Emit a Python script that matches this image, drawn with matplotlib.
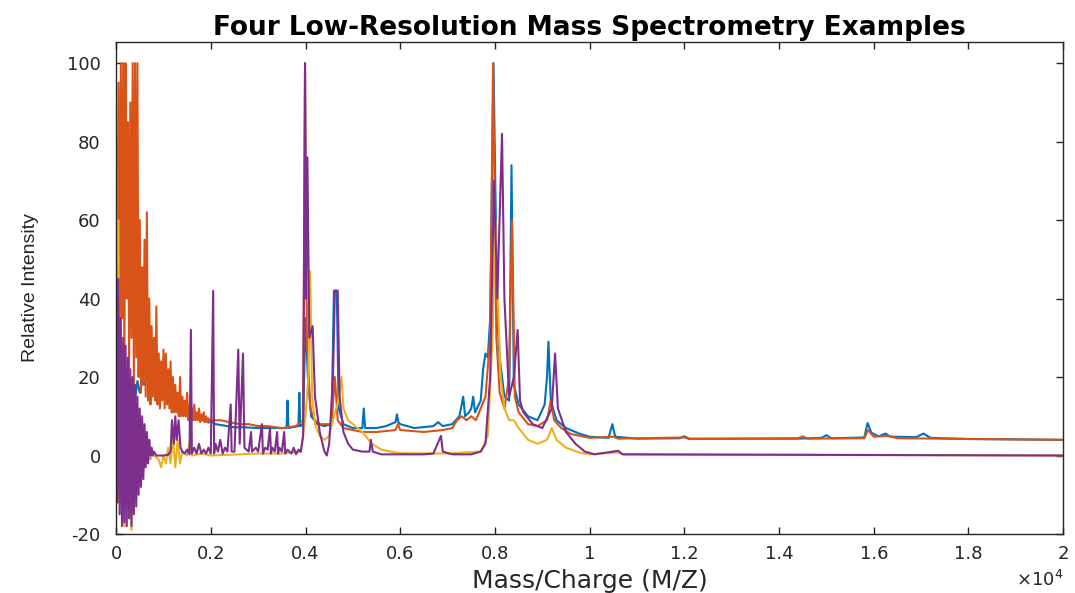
import numpy as np
import matplotlib
matplotlib.use('Agg')
import matplotlib.pyplot as plt

plt.rcParams['axes.unicode_minus'] = False

# spectra, m/z in Da, relative intensity in %
blue_mz = [0, 50, 100, 150, 200, 250, 300, 350, 400, 450, 500, 550, 600, 650, 700, 750, 800, 850, 900, 950,
           1000, 1050, 1100, 1150, 1200, 1250, 1300, 1350, 1400, 1450, 1500, 1550, 1600, 1650, 1700, 1750,
           1800, 1850, 1900, 1950, 2000, 2100, 2300, 2500, 2700, 3000, 3300, 3600, 3620, 3640, 3850, 3870,
           3890, 3950, 4000, 4050, 4120, 4250, 4400, 4550, 4600, 4660, 4700, 4800, 5000, 5200, 5230, 5260,
           5500, 5700, 5900, 5930, 5960, 6000, 6300, 6700, 6800, 6900, 7100, 7250, 7330, 7370, 7450, 7500,
           7540, 7580, 7700, 7750, 7800, 7850, 7900, 7970, 8050, 8100, 8200, 8300, 8350, 8400, 8500, 8700,
           8900, 9050, 9100, 9130, 9180, 9300, 9500, 9800, 10000, 10400, 10480, 10540, 11000, 11900, 12000,
           12100, 14400, 14900, 15000, 15100, 15800, 15870, 15950, 16100, 16250, 16350, 16900, 17050, 17200,
           18000, 20000]
blue_int = [5, 20, 8, 25, 10, 18, 12, 20, 14, 19, 16, 19, 18, 20.5, 21, 19, 20, 17.5, 18.5, 16.5,
            17, 15.5, 16, 14.5, 15, 13.5, 14, 12.5, 13, 11.5, 12, 10.5, 11, 10, 10.3, 9.3,
            9.8, 8.8, 9.2, 8.4, 8.7, 8, 7.6, 7.2, 7.2, 7, 7, 7, 14, 7, 7.5, 16,
            7.5, 8, 35, 20, 10, 8, 7.5, 8, 42, 42, 12, 8, 7, 7, 12, 7,
            7, 7.5, 8.5, 10.5, 8.5, 8, 7, 7.5, 8.5, 7.5, 8, 10, 15, 10, 11, 12,
            15, 11, 14, 22, 26, 25, 35, 100, 35, 25, 15, 14, 74, 18, 13, 10,
            9, 13, 20, 29, 14, 9, 7, 5.5, 4.8, 4.5, 8, 4.8, 4.3, 4.4, 4.9,
            4.3, 4.3, 4.5, 5.2, 4.4, 4.6, 8.3, 5.8, 4.9, 5.6, 4.8, 4.7, 5.6, 4.5,
            4.2, 4.0]

orange_mz = [0, 25, 50, 75, 100, 125, 150, 175, 200, 225, 250, 275, 300, 325, 350, 375, 400, 425, 450, 475,
             500, 525, 550, 575, 600, 625, 650, 675, 700, 725, 750, 775, 800, 825, 850, 875, 900, 925, 950, 975,
             1000, 1025, 1050, 1075, 1100, 1125, 1150, 1175, 1200, 1225, 1250, 1275, 1300, 1325, 1350, 1375,
             1400, 1425, 1450, 1475, 1500, 1525, 1550, 1575, 1600, 1625, 1650, 1675, 1700, 1725, 1750, 1775,
             1800, 1825, 1850, 1875, 1900, 1925, 1950, 1975, 2000, 2200, 2400, 2600, 2800, 3000, 3200, 3500,
             3800, 3950, 3990, 4030, 4100, 4200, 4300, 4400, 4550, 4620, 4680, 4800, 5000, 5200, 5500, 5900,
             5950, 6000, 6500, 6900, 7100, 7200, 7300, 7400, 7500, 7600, 7700, 7800, 7900, 7960, 8030, 8100,
             8200, 8300, 8360, 8420, 8500, 8700, 8900, 9100, 9180, 9250, 9400, 9600, 9800, 10000, 10500,
             10600, 12000, 12100, 14400, 14500, 14600, 15800, 15880, 16000, 16300, 16500, 20000]
orange_int = [80, 30, 95, 25, 100, 35, 100, 20, 100, 40, 85, 22, 90, 30, 100, 18, 100, 25, 100, 20,
              60, 16, 48, 18, 55, 15, 62, 14, 40, 13, 33, 15, 30, 14, 38, 13, 26, 12, 24, 14,
              27, 12, 26, 13, 22, 12, 24, 11, 20, 11, 18, 11, 16, 10, 20, 10,
              15, 10, 14, 10, 16, 9, 13, 9.5, 12, 9, 13, 9, 11, 9, 12, 8.5,
              10.5, 9, 11, 8.5, 10, 8.5, 9.5, 8.5, 9, 9, 8.5, 8, 8, 7.5, 7.5, 7,
              7.5, 9, 100, 30, 12, 9, 8, 8, 8, 20, 9, 7, 6.5, 6, 6, 6.5,
              8, 6.5, 6, 6.5, 7, 9, 10, 9, 10, 9, 12, 15, 30, 100, 30, 16,
              12, 20, 60, 15, 11, 8, 7.5, 9, 14, 9, 7, 5.5, 5, 4.5, 4.8,
              4.3, 4.6, 4.2, 4.4, 4.9, 4.3, 4.4, 6.5, 4.8, 5, 4.4, 4]

yellow_mz = [0, 25, 50, 75, 100, 125, 150, 175, 200, 225, 250, 275, 300, 325, 350, 375, 400, 425, 450, 475,
             500, 525, 550, 575, 600, 625, 650, 675, 700, 725, 750, 800, 900, 950, 1000, 1050, 1100, 1150,
             1200, 1250, 1300, 1350, 1400, 1500, 1550, 1600, 1800, 2000, 3000, 3500, 3900, 4000, 4060, 4100,
             4140, 4200, 4300, 4400, 4500, 4600, 4700, 4760, 4800, 4900, 5000, 5200, 5400, 5600, 5800, 6000,
             7000, 7700, 7850, 7950, 8010, 8060, 8120, 8200, 8300, 8400, 8500, 8700, 8900, 9100, 9200, 9300,
             9500, 9800, 10000, 10600, 10700, 20000]
yellow_int = [88, -5, 60, -12, 30, -15, 20, -18, 15, -10, 12, -16, 10, -19, 8, -14, 6, -12, 5, -8,
              4, -6, 3, -4, 2, -2, 2, -1, 1, -1, 0.5, 0, -1, -3, 0, -2, 2, -2,
              5, -3, 4, -2, 1, 0, 3, 0, 0.5, 0, 0.5, 0.5, 1, 10, 20, 47,
              15, 8, 5, 4, 5, 10, 14, 20, 12, 9, 8, 6, 3, 1.5, 1, 0.6,
              0.5, 1, 5, 30, 60, 40, 20, 12, 9, 9, 7, 4, 3, 4, 7, 4,
              2, 0.7, 0.3, 0.8, 0.3, 0]

purple_mz = [0, 25, 50, 75, 100, 125, 150, 175, 200, 225, 250, 275, 300, 325, 350, 375, 400, 425, 450, 475,
             500, 525, 550, 575, 600, 625, 650, 675, 700, 725, 750, 775, 800, 850, 1000, 1100, 1150, 1180,
             1220, 1250, 1280, 1320, 1360, 1400, 1450, 1500, 1550, 1580, 1600, 1650, 1700, 1750, 1800, 1850,
             1900, 1950, 2000, 2050, 2070, 2100, 2150, 2200, 2250, 2300, 2350, 2420, 2440, 2500, 2580, 2610,
             2680, 2710, 2800, 2850, 2870, 2950, 3000, 3080, 3100, 3150, 3200, 3250, 3270, 3300, 3350, 3400,
             3420, 3450, 3500, 3550, 3570, 3620, 3700, 3750, 3800, 3850, 3900, 3950, 3990, 4010, 4040, 4080,
             4150, 4200, 4300, 4400, 4450, 4500, 4580, 4620, 4680, 4720, 4800, 4900, 5000, 5200, 5350, 5380,
             5420, 5600, 6000, 6500, 6700, 6860, 6900, 7100, 7500, 7700, 7800, 7900, 7980, 8050, 8150, 8200,
             8300, 8400, 8480, 8530, 8600, 8800, 9000, 9200, 9270, 9330, 9500, 9700, 9900, 10100, 10600,
             10700, 20000]
purple_int = [48, -12, 45, -15, 35, -18, 30, -17, 28, -18, 25, -16, 22, -18, 20, -15, 18, -13, 15, -10,
              12, -8, 10, -6, 8, -3, 6, -2, 4, 0, 2, 0, 1, 0, 0, 0.2, 1, 9,
              3, 10, 4, 9, 2, 1, 0.5, 1.5, 0.3, 32, 0.5, 2, 0.5, 3, 0.5, 1.5,
              0.5, 2, 0.5, 42, 0.5, 3, 1, 4, 0.5, 2, 1, 13, 1, 1, 27, 3,
              26, 2, 1, 6, 1, 2, 1, 8, 0.5, 2, 1.5, 7, 0.5, 2, 1, 6,
              0.5, 2, 1, 6, 0.5, 1.5, 0.5, 2, 0.3, 1.5, 1, 5, 100, 40, 76, 30,
              33, 15, 6, 1, 0, 3, 20, 42, 42, 15, 6, 3, 1.5, 1, 1, 4,
              1, 0.3, 0.3, 0.3, 0.5, 5, 1, 0.3, 0.3, 1, 3, 20, 70, 40, 82, 40,
              15, 20, 32, 14, 11, 8, 7, 12, 26, 12, 6, 3, 1, 0.3, 1.2,
              0.3, 0]

xtick_vals = [0, 2000, 4000, 6000, 8000, 10000, 12000, 14000, 16000, 18000, 20000]
xtick_labels = ['0', '0.2', '0.4', '0.6', '0.8', '1', '1.2', '1.4', '1.6', '1.8', '2']
ytick_vals = [-20, 0, 20, 40, 60, 80, 100]

# matlab default line colours
colors = ['#0072BD', '#D95319', '#EDB120', '#7E2F8E']

fig = plt.figure(figsize=(10.75, 5.93), dpi=100)
ax = fig.add_axes([0.108, 0.0995, 0.881, 0.8297])

ax.plot(blue_mz, blue_int, color=colors[0], lw=1.5)
ax.plot(orange_mz, orange_int, color=colors[1], lw=1.5)
ax.plot(yellow_mz, yellow_int, color=colors[2], lw=1.5)
ax.plot(purple_mz, purple_int, color=colors[3], lw=1.5)

ax.set_xlim(0, 20000)
ax.set_ylim(-20, 105.4)
ax.set_xticks(xtick_vals)
ax.set_xticklabels(xtick_labels)
ax.set_yticks(ytick_vals)
ax.tick_params(direction='in', length=5, width=1, top=True, right=True,
               labelsize=13, colors='#262626')
ax.tick_params(axis='y', pad=11)
ax.tick_params(axis='x', pad=8)
for sp in ax.spines.values():
    sp.set_color('#262626')
    sp.set_linewidth(1.0)

ax.set_title('Four Low-Resolution Mass Spectrometry Examples', fontsize=19, fontweight='bold',
             color='black', pad=5)
ax.set_xlabel('Mass/Charge (M/Z)', fontsize=18, color='#262626', labelpad=4)
ax.set_ylabel('Relative Intensity', fontsize=14, color='#262626', labelpad=20,
              family='Liberation Sans')
ax.text(1.0, -0.072, r'$\times10^4$', transform=ax.transAxes, ha='right', va='top',
        fontsize=13, color='#262626')

fig.savefig('out.png', dpi=100)
